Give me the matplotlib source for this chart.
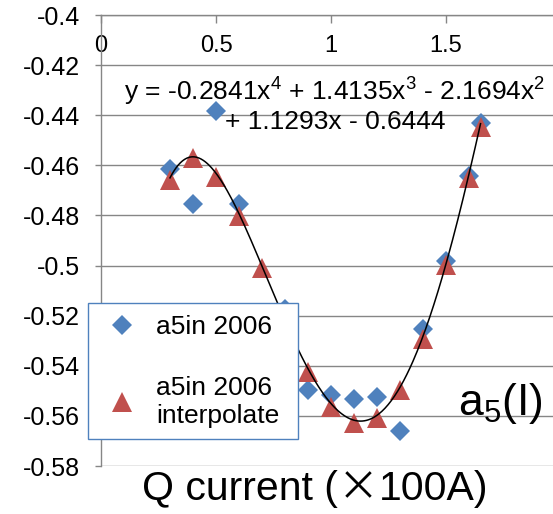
import numpy as np
import matplotlib.pyplot as plt
from matplotlib.offsetbox import TextArea, HPacker, AnchoredOffsetbox

plt.rcParams['font.family'] = ['Liberation Sans', 'DejaVu Sans']
plt.rcParams['mathtext.fontset'] = 'custom'
plt.rcParams['mathtext.rm'] = 'Liberation Sans'
plt.rcParams['mathtext.it'] = 'Liberation Sans'

# measured a5 in 2006
x_meas = [0.3, 0.4, 0.5, 0.6, 0.8, 0.9, 1.0, 1.1, 1.2, 1.3, 1.4, 1.5, 1.6, 1.65]
y_meas = [-0.4615, -0.4754, -0.4383, -0.4754, -0.5173, -0.5497, -0.5517, -0.5533,
          -0.5525, -0.5660, -0.5253, -0.4982, -0.4643, -0.4431]

# interpolated a5 in 2006
x_intp = [0.3, 0.4, 0.5, 0.6, 0.7, 0.8, 0.9, 1.0, 1.1, 1.2, 1.3, 1.4, 1.5, 1.6, 1.65]
y_intp = [-0.4658, -0.4571, -0.4647, -0.4802, -0.5010, -0.5200, -0.5425, -0.5565,
          -0.5628, -0.5609, -0.5497, -0.5293, -0.4998, -0.4650, -0.4447]

# trendline coefficients (4th order)
coef = [-0.2841, 1.4135, -2.1694, 1.1293, -0.6444]

xticks = [0, 0.5, 1, 1.5]
yticks = [-0.4, -0.42, -0.44, -0.46, -0.48, -0.5, -0.52, -0.54, -0.56, -0.58]

blue = '#4F81BD'
red = '#C0504D'
grey = '#868686'

W, H = 553, 514
fig = plt.figure(figsize=(W / 100, H / 100), dpi=100)
ax = fig.add_axes([101 / W, 1 - 466 / H, 1 - 101 / W, (466 - 15) / H])

ax.plot(x_meas, y_meas, 'D', color=blue, ms=10, mew=0, label='a5in 2006', zorder=3)
ax.plot(x_intp, y_intp, '^', color=red, ms=14, mew=0, label='a5in 2006\ninterpolate', zorder=4)

xf = np.linspace(x_intp[0], x_intp[-1], 300)
ax.plot(xf, np.polyval(coef, xf), color='black', lw=1.1, zorder=5)

ax.set_xlim(0, 1.965)
ax.set_ylim(-0.58, -0.4)
ax.set_xticks(xticks)
ax.set_xticklabels(['0', '0.5', '1', '1.5'])
ax.set_yticks(yticks)
ax.set_yticklabels(['%g' % v for v in yticks])

ax.yaxis.grid(True, color=grey, lw=1.0)
ax.set_axisbelow(True)
for s in ['right', 'bottom']:
    ax.spines[s].set_visible(False)
for s in ['left', 'top']:
    ax.spines[s].set_color(grey)
    ax.spines[s].set_linewidth(1.0)

ax.xaxis.set_ticks_position('top')
ax.tick_params(axis='x', direction='in', length=6, width=1, color=grey,
               labelsize=17, pad=-30, labeltop=True)
ax.tick_params(axis='y', direction='out', length=4, width=1, color=grey,
               labelsize=18, pad=11)

fig.text(335 / W, 1 - 105 / H, 'y = -0.2841x$^{4}$ + 1.4135x$^{3}$ - 2.1694x$^{2}$\n+ 1.1293x - 0.6444',
         ha='center', va='center', fontsize=19, linespacing=1.12, zorder=6)

fig.text(543 / W, 1 - 415 / H, 'a$_{5}$(I)', ha='right', va='baseline', fontsize=32)

# x label: the multiplication sign is a full-width glyph in the original
lbl = HPacker(children=[
    TextArea('Q current (', textprops=dict(fontsize=29.5)),
    TextArea('×', textprops=dict(fontsize=29.5, family='Noto Sans CJK JP')),
    TextArea('100A)', textprops=dict(fontsize=29.5)),
], sep=0, pad=0, align='baseline')
fig.add_artist(AnchoredOffsetbox(loc='center', child=lbl, frameon=False, pad=0, borderpad=0,
                                 bbox_to_anchor=(315 / W, 1 - 489 / H),
                                 bbox_transform=fig.transFigure))

leg = fig.legend(loc='upper left', bbox_to_anchor=(88 / W, 1 - 438 / H, 210 / W, 135 / H),
                 mode='expand', fontsize=19, frameon=True, fancybox=False, framealpha=1,
                 labelspacing=1.4, handletextpad=0.45, borderpad=0.45,
                 handlelength=1.67, borderaxespad=0)
leg.get_frame().set_edgecolor(blue)
leg.get_frame().set_linewidth(1.0)

fig.savefig('out.png', dpi=100)
